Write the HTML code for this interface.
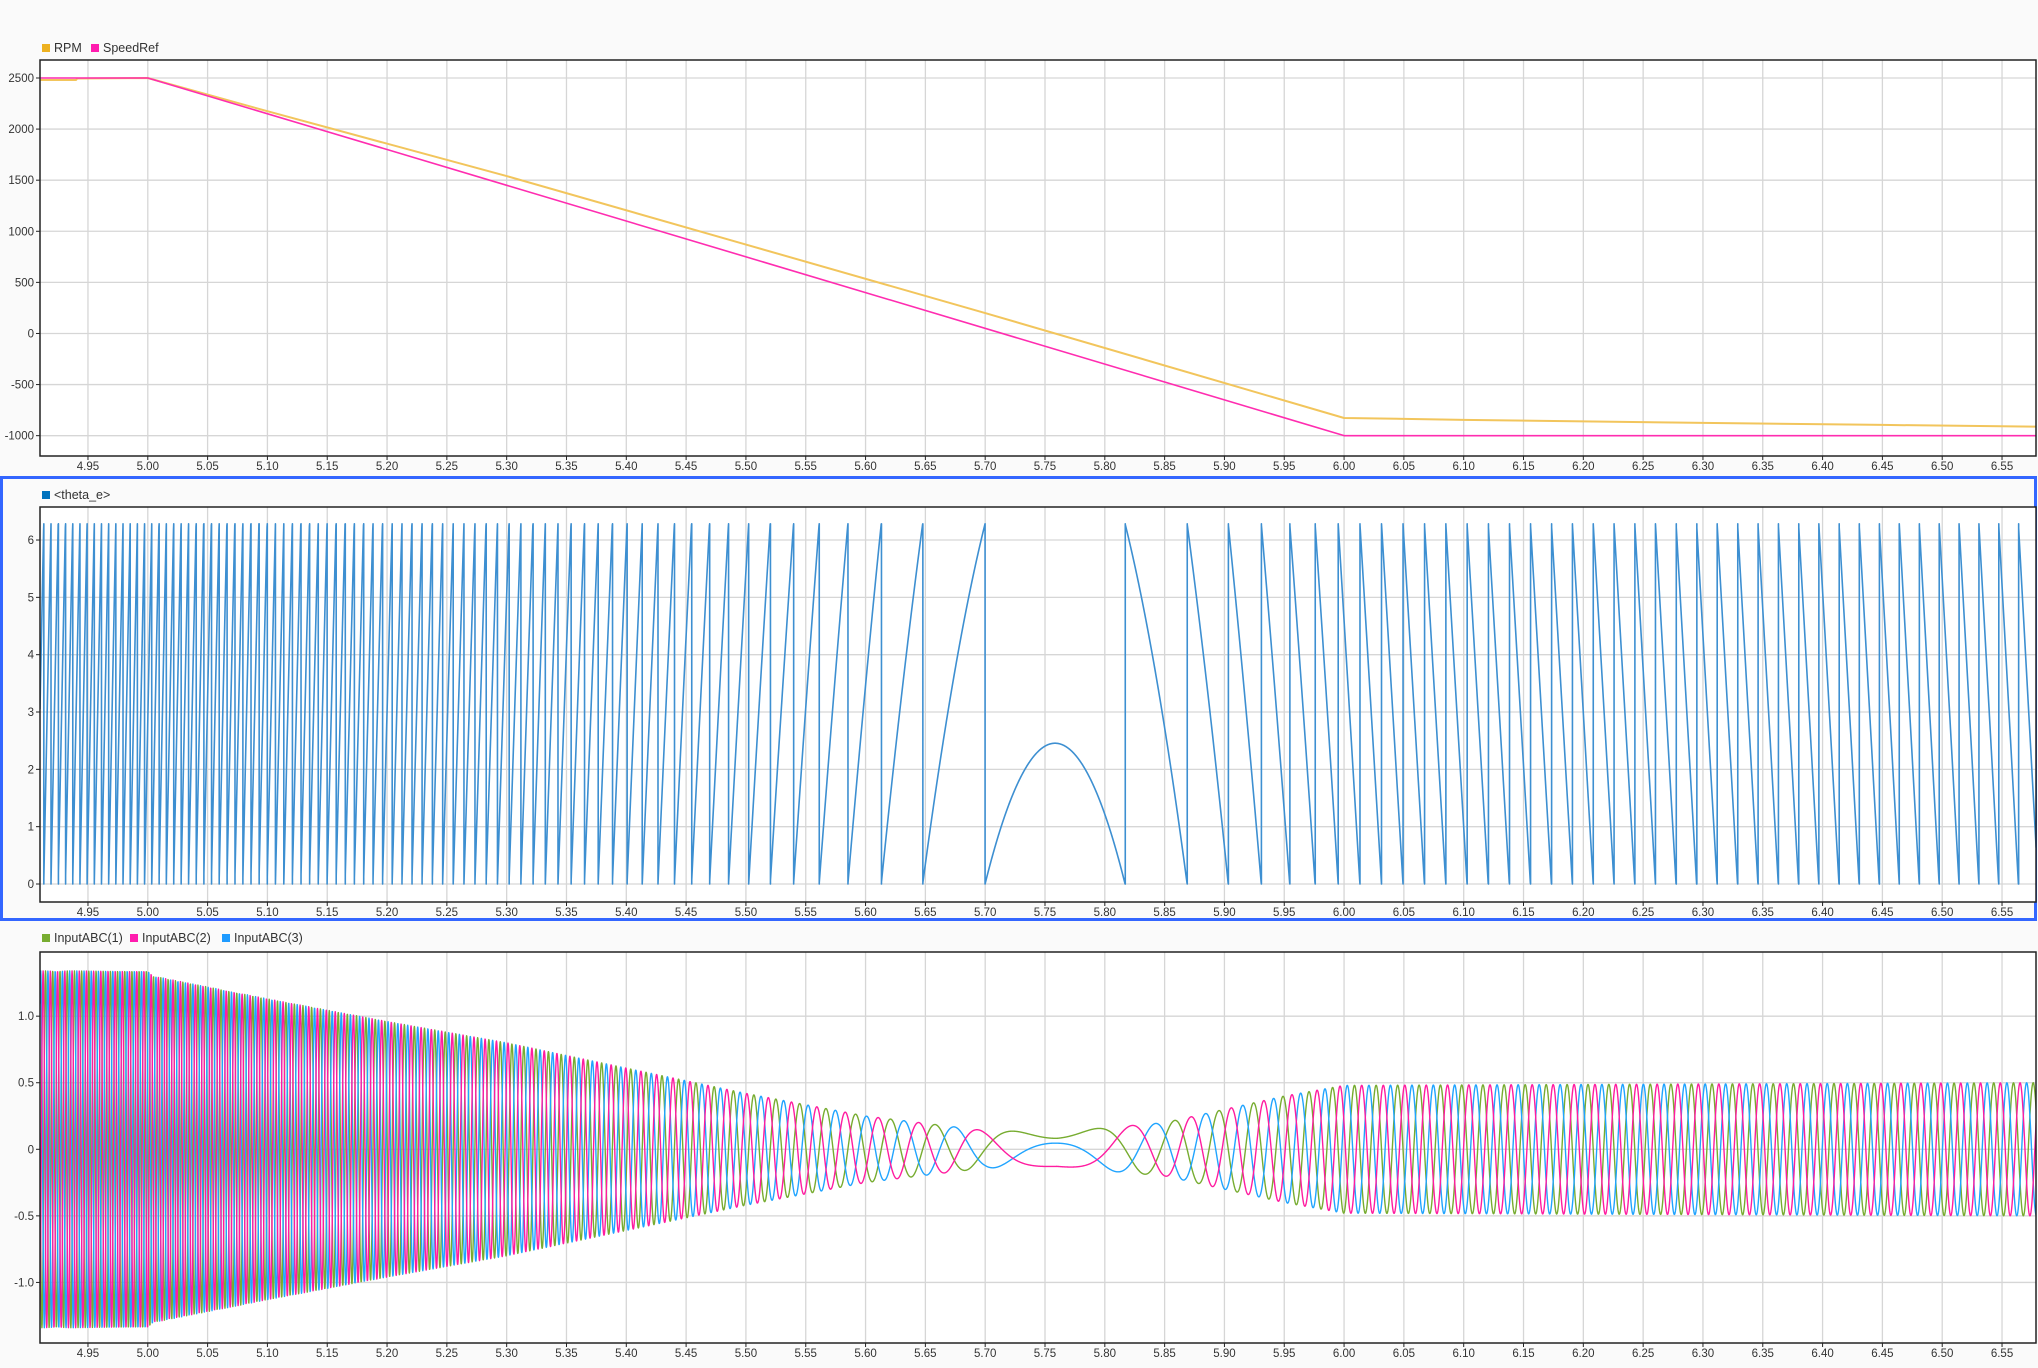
<!DOCTYPE html>
<html><head><meta charset="utf-8"><style>
html,body{margin:0;padding:0;background:#fafafa;}
svg{display:block;font-family:"Liberation Sans",sans-serif;}
</style></head><body>
<svg id="root" width="2038" height="1368" xmlns="http://www.w3.org/2000/svg">
<rect x="0" y="0" width="2038" height="1368" fill="#fafafa"/>
<rect x="1.5" y="477.5" width="2034" height="442" fill="none" stroke="#3366ff" stroke-width="3"/>
</svg>
<script>
// ---- data ----
const speedRefT = [4.91, 5.0, 6.0, 6.578];
const speedRefV = [2500, 2500, -1000, -1000];
const rpmT = [4.91, 4.94, 4.941, 5.0, 5.1, 5.3, 5.5, 5.7, 6.0, 6.1, 6.2, 6.3, 6.45, 6.578];
const rpmV = [2480, 2480, 2495, 2500, 2175, 1540, 870, 200, -827, -845, -860, -875, -895, -912];
const ampT = [4.91, 5.0, 5.005, 5.1, 5.2, 5.3, 5.4, 5.5, 5.6, 5.7, 5.76, 5.85, 5.95, 6.0, 6.578];
const ampV = [1.34, 1.34, 1.30, 1.13, 0.96, 0.8, 0.61, 0.42, 0.25, 0.14, 0.13, 0.2, 0.4, 0.48, 0.5];
const polePairs = [4];
const thetaZeroT = [5.70];
const xTicks = ["4.95","5.00","5.05","5.10","5.15","5.20","5.25","5.30","5.35","5.40","5.45","5.50","5.55","5.60","5.65","5.70","5.75","5.80","5.85","5.90","5.95","6.00","6.05","6.10","6.15","6.20","6.25","6.30","6.35","6.40","6.45","6.50","6.55"];
const y1Ticks = [2500, 2000, 1500, 1000, 500, 0, -500, -1000];
const y2Ticks = [0, 1, 2, 3, 4, 5, 6];
const y3Ticks = [1.0, 0.5, 0, -0.5, -1.0];
const y3Labels = ["1.0", "0.5", "0", "-0.5", "-1.0"];

const NS = "http://www.w3.org/2000/svg";
const root = document.getElementById('root');
function mk(tag, attrs, parent) {
  const e = document.createElementNS(NS, tag);
  for (const k in attrs) e.setAttribute(k, attrs[k]);
  (parent || root).appendChild(e);
  return e;
}
const X0 = 40, X1 = 2036, TMIN = 4.9099, TMAX = 6.5784;
const xs = t => X0 + (t - TMIN) / (TMAX - TMIN) * (X1 - X0);
function interp(T, V, t) {
  if (t <= T[0]) return V[0];
  for (let i = 1; i < T.length; i++) if (t <= T[i]) { const f = (t - T[i-1]) / (T[i] - T[i-1]); return V[i-1] + f * (V[i] - V[i-1]); }
  return V[V.length - 1];
}
function makePlot(id, top, bot, vmax, vmin, ticks, labels) {
  const ys = v => top + (vmax - v) / (vmax - vmin) * (bot - top);
  const g = mk('g', {});
  
  
  const bg = mk('rect', {x: X0, y: top, width: X1 - X0, height: bot - top, fill: '#ffffff'}, g);
  
  
  xTicks.forEach(s => {
    const x = xs(parseFloat(s));
    const l = mk('line', {x1: x, x2: x, y1: top, y2: bot, stroke: '#d6d6d6', 'stroke-width': 1.3}, g);
    
    
    const tk = mk('line', {x1: x, x2: x, y1: bot, y2: bot + 4, stroke: '#222', 'stroke-width': 1}, g);
    
    
    const t = mk('text', {x: x, y: bot + 14, 'font-size': 11.5, fill: '#333', 'text-anchor': 'middle'}, g);
    t.textContent = s;
    
    
  });
  ticks.forEach((v, i) => {
    const y = ys(v);
    const l = mk('line', {x1: X0, x2: X1, y1: y, y2: y, stroke: '#d6d6d6', 'stroke-width': 1.3}, g);
    
    
    const tk = mk('line', {x1: X0 - 4, x2: X0, y1: y, y2: y, stroke: '#222', 'stroke-width': 1}, g);
    
    
    const t = mk('text', {x: X0 - 6, y: y + 4, 'font-size': 11.5, fill: '#333', 'text-anchor': 'end'}, g);
    t.textContent = labels ? labels[i] : String(v);
    
    
  });
  const cp = mk('clipPath', {id: id + '-clip'}, g);
  mk('rect', {x: X0, y: top, width: X1 - X0, height: bot - top}, cp);
  const lines = mk('g', {'clip-path': 'url(#' + id + '-clip)'}, g);
  
  
  return {g, lines, ys, top, bot};
}
function addLine(p, pts, color, name, w) {
  const d = pts.map((q, i) => (i ? 'L' : 'M') + xs(q[0]).toFixed(2) + ' ' + p.ys(q[1]).toFixed(2)).join('');
  const e = mk('path', {d: d, fill: 'none', stroke: color, 'stroke-width': w || 1.5, 'stroke-linejoin': 'round'}, p.lines);
  
  
}
function frame(p, id) {
  const f = mk('rect', {x: X0, y: p.top, width: X1 - X0, height: p.bot - p.top, fill: 'none', stroke: '#222', 'stroke-width': 1.5}, p.g);
  
  
}
function legend(items, y) {
  const lg = mk('g', {});
  
  
  items.forEach(it => {
    const s = mk('rect', {x: it[2], y: y - 7, width: 8, height: 8, fill: it[1]}, lg);
    
    
    const t = mk('text', {x: it[2] + 12, y: y + 1, 'font-size': 12.5, fill: '#333'}, lg);
    t.textContent = it[0];
    
    
  });
}

// ---- panel 1 ----
const p1 = makePlot('speed', 60, 456, 2676, -1199, y1Ticks);
addLine(p1, rpmT.map((t, i) => [t, rpmV[i]]), '#f2c55c', 'rpm-line', 2);
addLine(p1, speedRefT.map((t, i) => [t, speedRefV[i]]), '#ff2db0', 'speedref-line', 1.6);
frame(p1, 'speed');
legend([['RPM', '#EDB120', 42], ['SpeedRef', '#FF1CAE', 91]], 51);

// ---- derived signals: theta integrated from rpm ----
const dt = 0.0002;
const N = Math.ceil((TMAX - TMIN) / dt);
const ts = [], th = [];
let acc = 0;
const k = polePairs[0] * 2 * Math.PI / 60;
const i0 = Math.round((thetaZeroT[0] - TMIN) / dt);
const raw = new Array(N + 1);
raw[0] = 0;
for (let i = 1; i <= N; i++) {
  const t = TMIN + (i - 0.5) * dt;
  acc += interp(rpmT, rpmV, t) * k * dt;
  raw[i] = acc;
}
const off = raw[i0];
const twoPi = 2 * Math.PI;
for (let i = 0; i <= N; i++) {
  ts.push(TMIN + i * dt);
  let a = (raw[i] - off) % twoPi; if (a < 0) a += twoPi;
  th.push([raw[i] - off, a]);
}

// ---- panel 2 ----
const p2 = makePlot('theta', 507, 902, 6.576, -0.314, y2Ticks);
const thPts = [];
for (let i = 0; i <= N; i++) {
  if (i > 0 && Math.abs(th[i][1] - th[i-1][1]) > Math.PI) {
    thPts.push([ts[i], th[i-1][1] > th[i][1] ? twoPi : 0]);
    thPts.push([ts[i], th[i-1][1] > th[i][1] ? 0 : twoPi]);
  }
  thPts.push([ts[i], th[i][1]]);
}
addLine(p2, thPts, '#3d8fd1', 'theta-e-line', 1.6);
frame(p2, 'theta');
legend([['<theta_e>', '#0072BD', 42]], 498);

// ---- panel 3 ----
const p3 = makePlot('inputabc', 952, 1343, 1.482, -1.455, y3Ticks, y3Labels);
const phases = [0, -2 * Math.PI / 3, 2 * Math.PI / 3];
const cols = ['#77AC30', '#20A4FF', '#FF1CA0'];
const names = ['inputabc-1-line', 'inputabc-3-line', 'inputabc-2-line'];
phases.forEach((ph, j) => {
  const pts = [];
  for (let i = 0; i <= N; i++) pts.push([ts[i], interp(ampT, ampV, ts[i]) * Math.sin(th[i][0] + ph)]);
  addLine(p3, pts, cols[j], names[j], 1.4);
});
frame(p3, 'inputabc');
legend([['InputABC(1)', '#77AC30', 42], ['InputABC(2)', '#FF1CAE', 130], ['InputABC(3)', '#1E9BFF', 222]], 941);
</script>
</body></html>
